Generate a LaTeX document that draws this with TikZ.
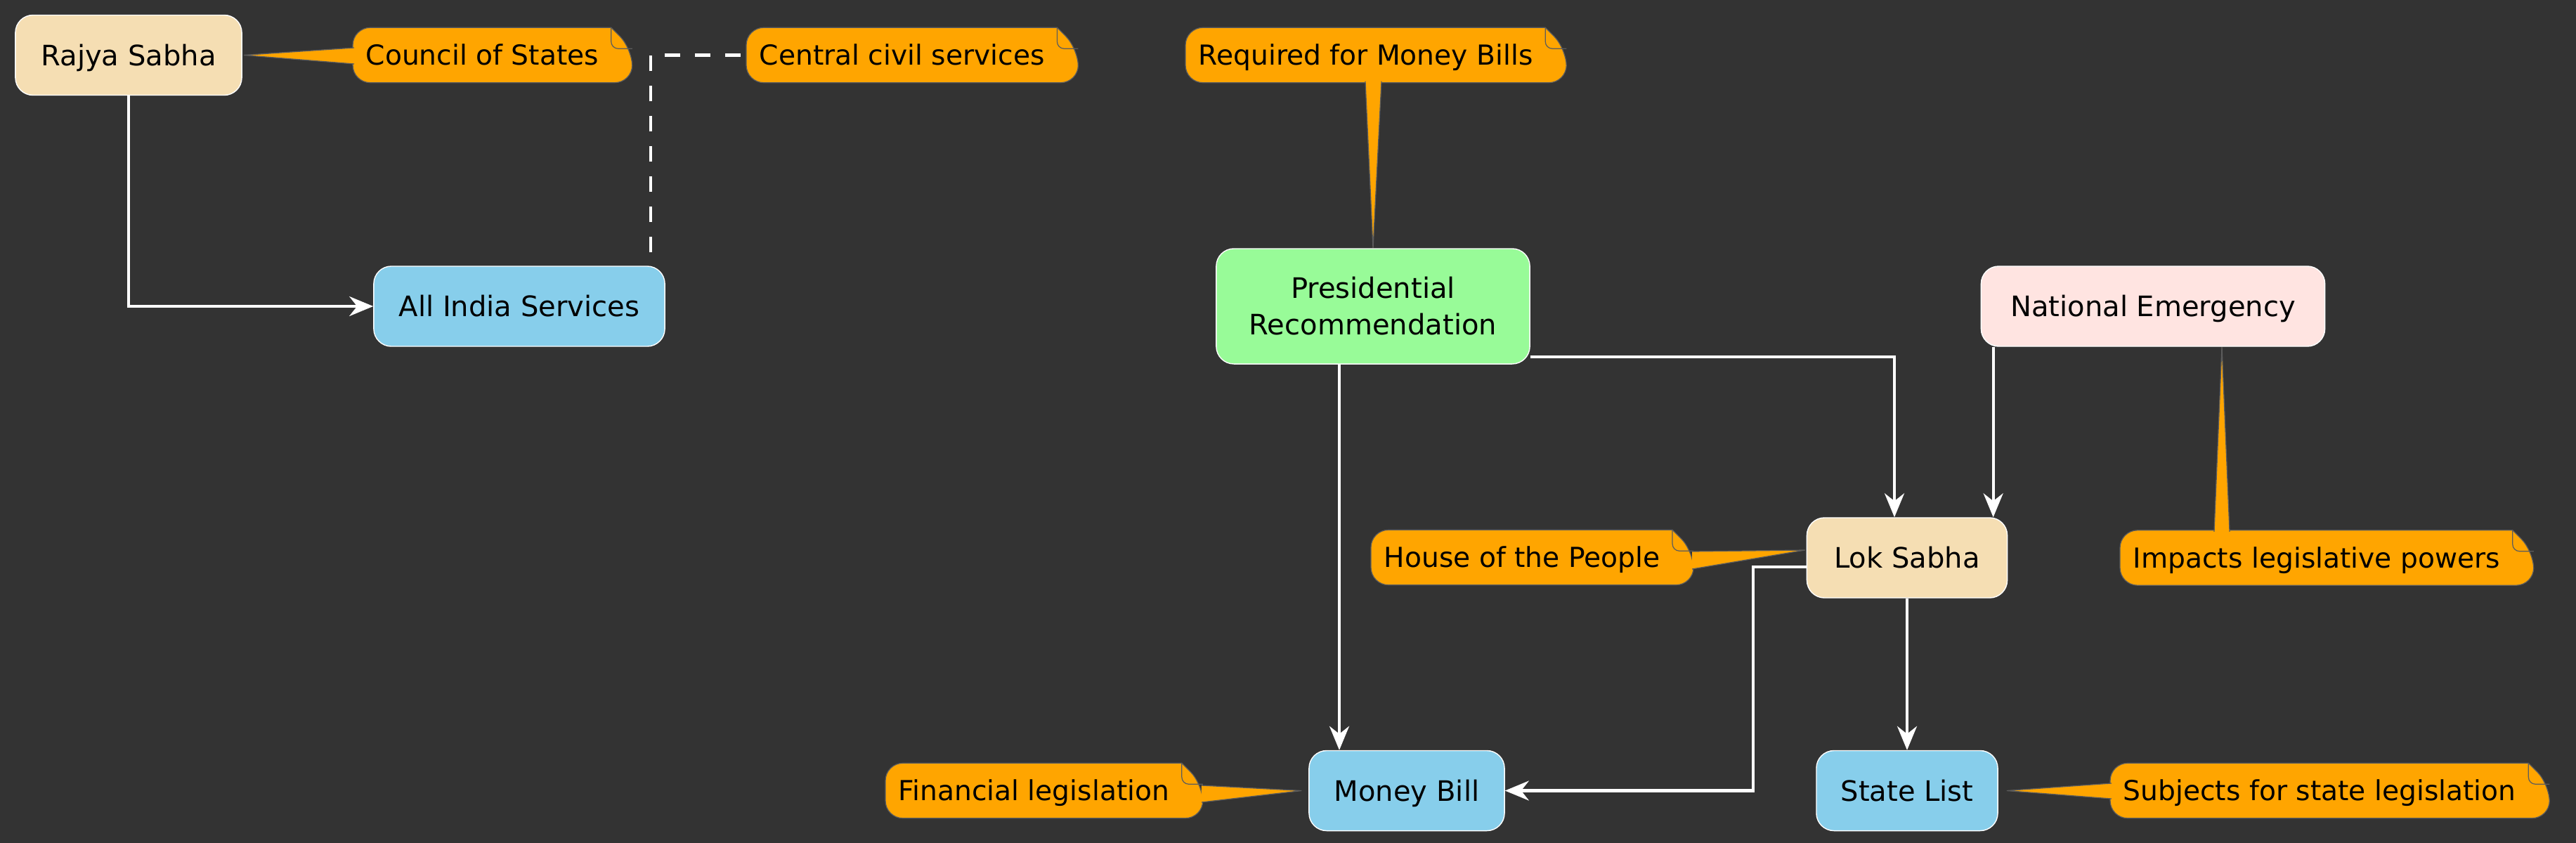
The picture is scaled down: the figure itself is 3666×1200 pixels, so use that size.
\documentclass[tikz,border=0pt]{standalone}
\usepackage{fontspec}
\setmainfont{DejaVu Sans}
\usetikzlibrary{arrows.meta,calc}
\definecolor{canvas}{HTML}{333333}
\definecolor{house}{HTML}{F5DEB3}
\definecolor{subject}{HTML}{87CEEB}
\definecolor{assent}{HTML}{98FB98}
\definecolor{crisis}{HTML}{FFE4E1}
\definecolor{memo}{HTML}{FFA500}
\definecolor{memoedge}{HTML}{5C5C5C}
\pgfdeclarelayer{bgfill}
\pgfdeclarelayer{notes}
\pgfsetlayers{bgfill,notes,main}
\newcommand{\labelfont}{\fontsize{11.4pt}{14.8pt}\selectfont}
\newcommand{\memofont}{\fontsize{11.15pt}{14pt}\selectfont}
% note body with folded corner, text node first
\newcommand{\notebox}[3]{%
  \node[notetxt, anchor=west] (#1) at #2 {#3};
  \coordinate (#1-l) at ($(#1.west)+(-18,0)$);
  \coordinate (#1-r) at ($(#1.east)+(47,0)$);
  \begin{pgfonlayer}{notes}
    \path[notebody] ($(#1-r |- #1.north)+(-30,0)$) [rounded corners=0.25cm]
      -- (#1-l |- #1.north) -- (#1-l |- #1.south) -- (#1-r |- #1.south)
      -- ($(#1-r |- #1.north)+(0,30)$) [sharp corners] -- ($(#1-r |- #1.north)+(-30,0)$) -- cycle;
    \draw[draw=memoedge, line width=0.35pt, rounded corners=0.1cm]
      ($(#1-r |- #1.north)+(-30,0)$) -- ++(0,30) -- ++(30,0);
  \end{pgfonlayer}}
% pointer from a note to its node
\newcommand{\callout}[3]{%
  \begin{pgfonlayer}{notes}
    \fill[memo] #1 -- #3 -- #2 -- cycle;
    \draw[memoedge, line width=0.35pt] #1 -- #3 -- #2;
  \end{pgfonlayer}}

\begin{document}
\begin{tikzpicture}[
  x=0.01cm, y=-0.01cm,
  box/.style={draw=white, line width=0.4pt, rounded corners=0.25cm, align=center, text=black,
    font=\labelfont, inner xsep=0.33cm, inner ysep=0pt, minimum height=1.14cm,
    text height=0.293cm, text depth=0pt},
  notetxt/.style={font=\memofont, text=black, inner sep=0pt, minimum height=0.77cm,
    text height=0.287cm, text depth=0pt},
  notebody/.style={fill=memo, draw=memoedge, line width=0.35pt},
  arr/.style={-{Stealth[length=0.34cm, width=0.28cm, inset=0.11cm]}, line width=1.15pt, draw=white},
  dashlink/.style={line width=1.15pt, draw=white, dash pattern=on 0.22cm off 0.21cm, dash phase=0.24cm}
]
\begin{pgfonlayer}{bgfill}
  \fill[canvas] (0,0) rectangle (3666,1200);
\end{pgfonlayer}
\useasboundingbox (0,0) rectangle (3666,1200);

% Chambers, lists and triggers
\node[box, fill=house, minimum width=3.22cm] (rajya) at (183,78.5) {Rajya Sabha};
\node[box, fill=subject, minimum width=4.14cm] (aiserv) at (739,436) {All India Services};
\node[box, fill=assent, minimum width=4.46cm, minimum height=1.64cm, text height=, text depth=] (pres) at (1954,436)
  {Presidential\\Recommendation};
\node[box, fill=crisis, minimum width=4.89cm] (natem) at (3064,436) {National Emergency};
\node[box, fill=house, minimum width=2.85cm] (lok) at (2714,794) {Lok Sabha};
\node[box, fill=subject, minimum width=2.78cm] (money) at (2002,1125.5) {Money Bill};
\node[box, fill=subject, minimum width=2.58cm] (slist) at (2714,1125.5) {State List};

% Notes
\notebox{ncouncil}{(520,78.5)}{Council of States}
\notebox{ncentral}{(1080,78.5)}{Central civil services}
\notebox{nmoney}{(1705,78.5)}{Required for Money Bills}
\notebox{npeople}{(1969,793.5)}{House of the People}
\notebox{npowers}{(3035,794)}{Impacts legislative powers}
\notebox{nfinance}{(1278,1125.5)}{Financial legislation}
\notebox{nstate}{(3021,1125.5)}{Subjects for state legislation}

\coordinate (ptip) at ($(natem.south)+(98,0)$);
\callout{($(ncouncil-l)+(2,-10.5)$)}{($(ncouncil-l)+(2,12.5)$)}{($(rajya.east)+(2,0)$)}
\callout{($(pres.north |- nmoney.south)+(-11,-2)$)}{($(pres.north |- nmoney.south)+(12,-2)$)}{(pres.north)}
\callout{($(npeople-r)+(-2,-8.5)$)}{($(npeople-r)+(-2,16.5)$)}{($(lok.west)+(-2,-11)$)}
\callout{($(ptip |- npowers.north)+(-11,2)$)}{($(ptip |- npowers.north)+(11,2)$)}{(ptip)}
\callout{($(nfinance-r)+(-2,-7.5)$)}{($(nfinance-r)+(-2,16.5)$)}{($(money.west)+(-10,0)$)}
\callout{($(nstate-l)+(2,-10.5)$)}{($(nstate-l)+(2,11.5)$)}{($(slist.east)+(12,0)$)}

% Flows
\draw[arr] (rajya.south) |- (aiserv.west);
\draw[dashlink] ($(aiserv.north east)+(-21,0)$) |- (ncentral-l);
\draw[arr] ($(pres.south)+(-48,0)$) coordinate (pm) -- (pm |- money.north);
\draw[arr] ($(pres.south east)+(0,-11)$) -| ($(lok.north)+(-18,0)$);
\draw[arr] ($(natem.south west)+(18,0)$) coordinate (nl) -- (nl |- lok.north);
\draw[arr] ($(lok.west)+(0,13)$) -- ++(-76,0) |- (money.east);
\draw[arr] (lok.south) -- (slist.north);
\end{tikzpicture}
\end{document}
